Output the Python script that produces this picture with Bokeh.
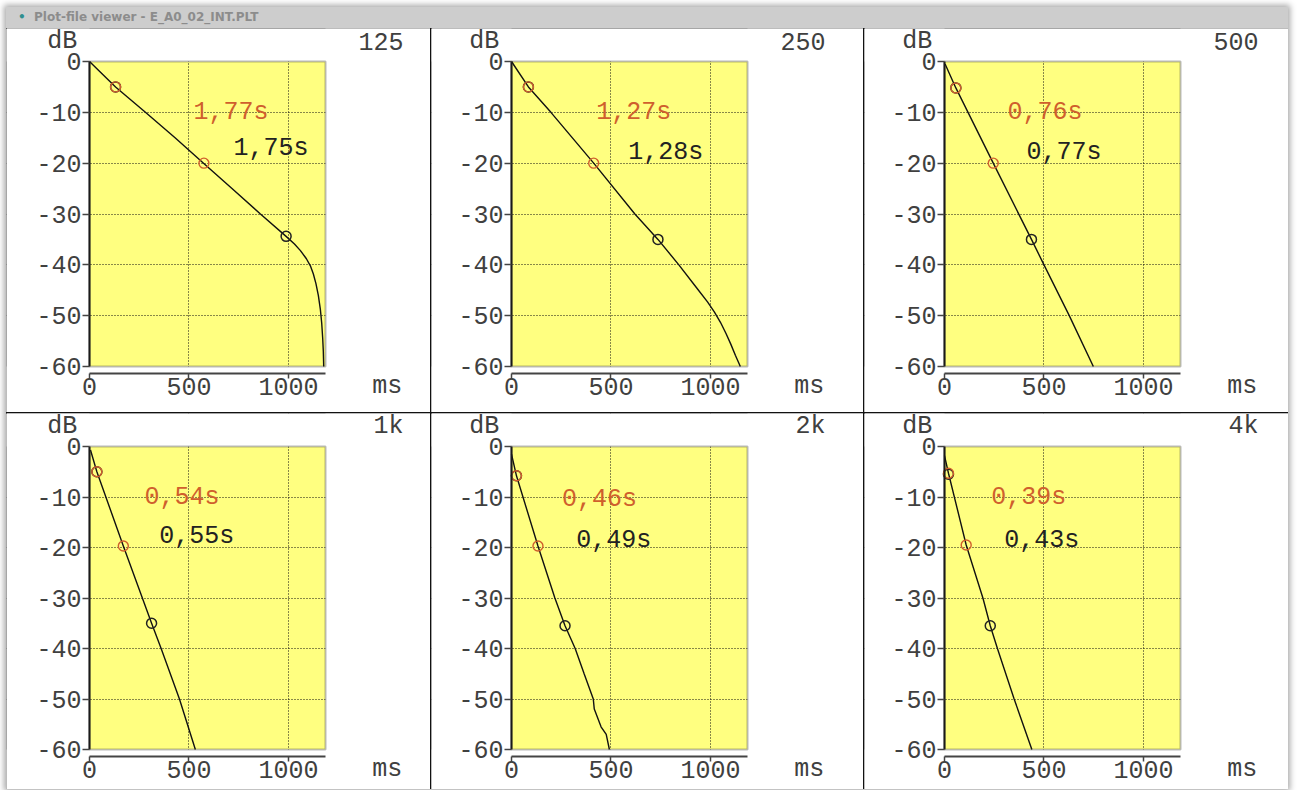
from bokeh.plotting import figure
from bokeh.layouts import row, column
from bokeh.models import Range1d, FixedTicker, Label, Div, BoxAnnotation
from bokeh.core.properties import value
from bokeh.embed import file_html
from bokeh.resources import INLINE

# ---------------- data ----------------
BANDS = ["125", "250", "500", "1k", "2k", "4k"]
T_RED = ["1,77s", "1,27s", "0,76s", "0,54s", "0,46s", "0,39s"]
T_BLACK = ["1,75s", "1,28s", "0,77s", "0,55s", "0,49s", "0,43s"]

# decay curves (time in ms, level in dB)
T_125 = [0, 131, 281, 430, 573, 716, 859, 988, 1030, 1060, 1090, 1110, 1125, 1138,
         1150, 1160, 1167, 1172, 1175, 1177]
L_125 = [0, -5, -10, -15, -20, -25, -30, -34.4, -35.9, -37.2, -38.8, -40.2, -41.8, -43.7,
         -46, -48.7, -51.5, -54.5, -57, -60]
T_250 = [0, 85, 198, 413, 620, 736, 841, 930, 985, 1020, 1050, 1078, 1102, 1125, 1150]
L_250 = [0, -5, -10, -20, -30, -35, -40, -44.5, -47.3, -49.3, -51.3, -53.5, -55.6, -57.8, -60]
T_500 = [3, 57, 245, 437, 500, 627, 748]
L_500 = [-0.5, -5.2, -20, -35, -40, -50, -60]
T_1K = [5, 37, 170, 312, 360, 452, 532]
L_1K = [-0.7, -5, -19.7, -35, -40, -50, -60]
T_2K = [0, 25, 133, 218, 269, 320, 365, 411, 416, 450, 476, 492]
L_2K = [-1.5, -5.8, -19.7, -30, -35.5, -40, -45, -50, -52, -55.5, -57, -60]
T_4K = [0, 20, 109, 193, 230, 266, 350, 439]
L_4K = [-1.8, -5.3, -19.5, -30, -35.5, -40, -50, -60]
CURVES = [(T_125, L_125), (T_250, L_250), (T_500, L_500),
          (T_1K, L_1K), (T_2K, L_2K), (T_4K, L_4K)]

# evaluation markers: red (-5 / -20 dB), black (-5 / -35 dB)
RED_T = [[131, 575], [85, 413], [57, 245], [37, 170], [25, 133], [20, 109]]
RED_L = [[-5, -20], [-5, -20], [-5.2, -20], [-5, -19.7], [-5.8, -19.7], [-5.3, -19.5]]
BLK_T = [[131, 988], [85, 736], [57, 437], [37, 312], [25, 269], [20, 230]]
BLK_L = [[-5, -34.4], [-5, -35], [-5.2, -35], [-5, -35], [-5.8, -35.5], [-5.5, -35.5]]

# position of the reverberation-time texts (ms, dB)
RED_TXT_T = [523, 426, 316, 276, 254, 235]
RED_TXT_L = [-10, -10, -10.1, -10.1, -10.5, -10.1]
BLK_TXT_T = [724, 587, 412, 351, 325, 300]
BLK_TXT_L = [-17.1, -17.9, -17.9, -17.9, -18.7, -18.7]

X_TICKS = [0, 500, 1000]
X_TICK_LABELS = ["0", "500", "1000"]
Y_TICKS = [0, -10, -20, -30, -40, -50, -60]
Y_TICK_LABELS = ["0", "-10", "-20", "-30", "-40", "-50", "-60"]
X_GRID = [500, 1000]
Y_GRID = [-10, -20, -30, -40, -50]

X_MAX = 1186
Y_MIN, Y_MAX = -60, 0
XAXIS_Y = -61.3

# ---------------- style / layout ----------------
FONT = "Liberation Mono"
FS = "25px"
YELLOW = "#ffff80"
RED = "#cf5f2d"
INK = "#404040"

FRAME_W = 236                    # pixels for 0..X_MAX
PX_PER_MS = FRAME_W / X_MAX
WIDTHS = [424, 432, 424]
ZERO_X = [83, 80, 80]            # pixel of t=0 inside each figure
ROW_H = [384, 376]
ZERO_Y = 33                      # pixel of 0 dB from figure top
BOX_H = [305, 303]               # pixels for 0..-60 dB


def panel(i):
    c, r = i % 3, i // 3
    w, h = WIDTHS[c], ROW_H[r]
    px_db = BOX_H[r] / 60.0
    x_lo = -ZERO_X[c] / PX_PER_MS
    x_hi = (w - ZERO_X[c]) / PX_PER_MS
    y_hi = ZERO_Y / px_db
    y_lo = -(h - ZERO_Y) / px_db

    p = figure(width=w, height=h, title=None,
               x_range=Range1d(x_lo, x_hi), y_range=Range1d(y_lo, y_hi),
               output_backend="svg", toolbar_location=None,
               min_border=0)
    p.background_fill_color = "white"
    p.border_fill_color = "white"
    p.outline_line_color = None

    # yellow plotting area
    p.add_layout(BoxAnnotation(left=0, right=X_MAX, bottom=Y_MIN, top=Y_MAX,
                               fill_color=YELLOW, fill_alpha=1, line_color=None,
                               level="image"))

    # dotted grid
    p.xgrid.ticker = FixedTicker(ticks=X_GRID)
    p.ygrid.ticker = FixedTicker(ticks=Y_GRID)
    for g in (p.xgrid, p.ygrid):
        g.grid_line_color = "#111111"
        g.grid_line_dash = "1 2"
        g.grid_line_width = 1

    # hide grid outside the yellow area
    for kw in (dict(left=x_lo, right=x_hi, bottom=Y_MAX, top=y_hi),
               dict(left=x_lo, right=x_hi, bottom=y_lo, top=Y_MIN),
               dict(left=x_lo, right=0, bottom=y_lo, top=y_hi),
               dict(left=X_MAX, right=x_hi, bottom=y_lo, top=y_hi)):
        p.add_layout(BoxAnnotation(fill_color="white", fill_alpha=1,
                                   line_color=None, level="underlay", **kw))
    # frame of the yellow area
    p.add_layout(BoxAnnotation(left=0, right=X_MAX, bottom=Y_MIN, top=Y_MAX,
                               fill_alpha=0, line_color="#1a1a1a", line_width=2,
                               level="underlay"))

    # x axis, detached below the plot area
    xa = p.xaxis[0]
    xa.ticker = FixedTicker(ticks=X_TICKS)
    xa.major_label_overrides = {t: s for t, s in zip(X_TICKS, X_TICK_LABELS)}
    xa.fixed_location = XAXIS_Y
    xa.bounds = (0, X_MAX)
    xa.axis_line_color = "#444444"
    xa.axis_line_width = 2
    xa.major_tick_line_color = "#444444"
    xa.major_tick_line_width = 1.5
    xa.major_tick_in = 0
    xa.major_tick_out = 5
    xa.minor_tick_line_color = None
    xa.major_label_standoff = 0
    xa.major_label_text_font = FONT
    xa.major_label_text_font_size = FS
    xa.major_label_text_color = INK

    ya = p.yaxis[0]
    ya.ticker = FixedTicker(ticks=Y_TICKS)
    ya.major_label_overrides = {t: s for t, s in zip(Y_TICKS, Y_TICK_LABELS)}
    ya.fixed_location = 0
    ya.bounds = (Y_MIN, Y_MAX)
    ya.axis_line_color = "#1a1a1a"
    ya.axis_line_width = 2
    ya.major_tick_line_color = "#444444"
    ya.major_tick_line_width = 1.5
    ya.major_tick_in = 0
    ya.major_tick_out = 7
    ya.minor_tick_line_color = None
    ya.major_label_standoff = 1
    ya.major_label_text_font = FONT
    ya.major_label_text_font_size = FS
    ya.major_label_text_color = INK

    # decay curve
    t, l = CURVES[i]
    p.line(t, l, line_color="#111111", line_width=1.4)

    # evaluation markers
    p.scatter(BLK_T[i], BLK_L[i], marker="circle", size=10, fill_alpha=0,
              line_color="#222222", line_width=1.5)
    p.scatter(RED_T[i], RED_L[i], marker="circle", size=10, fill_alpha=0,
              line_color=RED, line_width=1.4)

    # reverberation times
    p.text([RED_TXT_T[i]], [RED_TXT_L[i]], text=[T_RED[i]], text_color=RED,
           text_font=value(FONT), text_font_size=FS,
           text_align="left", text_baseline="middle")
    p.text([BLK_TXT_T[i]], [BLK_TXT_L[i]], text=[T_BLACK[i]], text_color="#222222",
           text_font=value(FONT), text_font_size=FS,
           text_align="left", text_baseline="middle")

    # unit / band labels
    lab = dict(text_font=FONT, text_font_size=FS, text_color=INK,
               text_baseline="middle")
    p.add_layout(Label(x=-137, y=3.9, text="dB", text_align="center", **lab))
    p.add_layout(Label(x=1578, y=3.9, text=BANDS[i], text_align="right", **lab))
    p.add_layout(Label(x=1496, y=-64.0, text="ms", text_align="center", **lab))
    return p


panels = [panel(i) for i in range(6)]
dark = {"background-color": "#111111"}
top = row(panels[0], panels[1], panels[2], spacing=1, styles=dark)
bottom = row(panels[3], panels[4], panels[5], spacing=1, styles=dark)
body = column(top, bottom, spacing=1, styles=dark)

title_bar = Div(
    text='<span style="color:#2f8f8f">&#8226;</span>&nbsp; Plot-file viewer - E_A0_02_INT.PLT',
    width=1282, height=21, margin=0,
    styles={"background-color": "#cdcdcd", "color": "#8c8c8c",
            "font-family": "DejaVu Sans", "font-weight": "bold",
            "font-size": "12px", "line-height": "21px",
            "padding-left": "12px", "box-sizing": "border-box"})

layout = column(title_bar, body, spacing=0, margin=(7, 0, 0, 6),
                styles={"box-shadow": "0 0 6px 2px #a8a8a8"})

open("out.html", "w").write(file_html(layout, INLINE))
